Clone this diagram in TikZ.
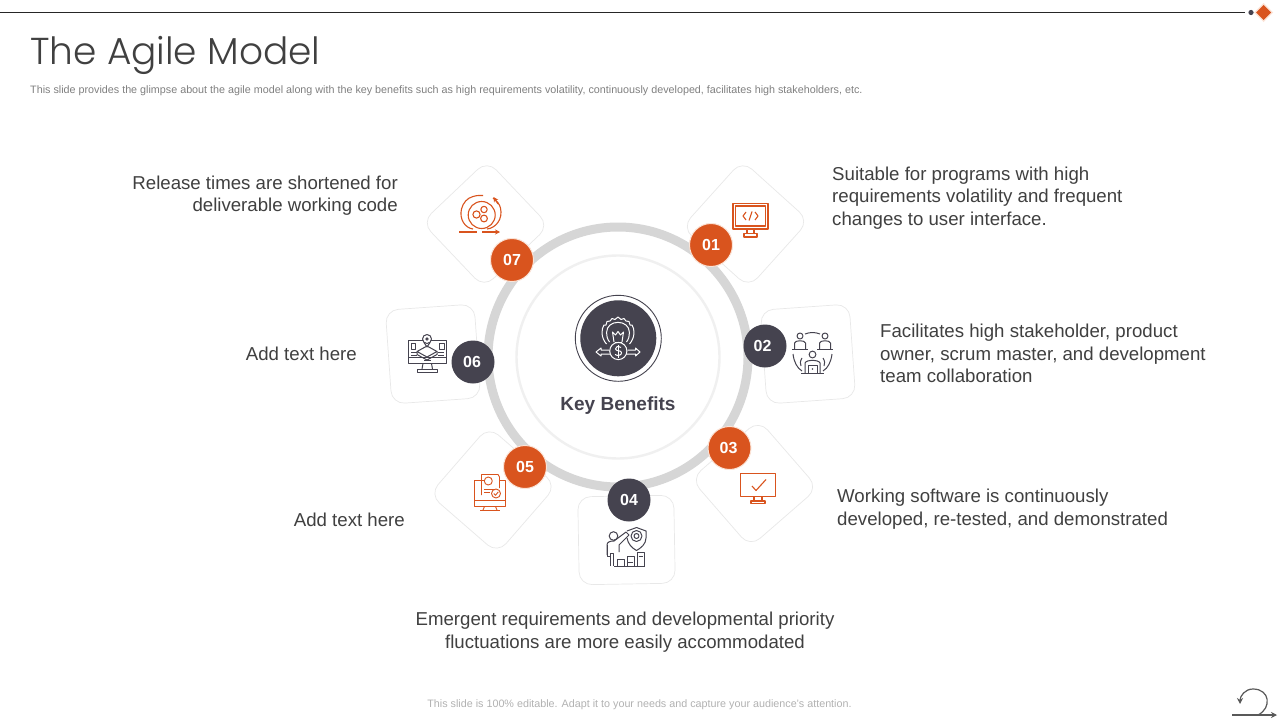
\documentclass[tikz,border=0pt]{standalone}
\usepackage{fontspec}
\setmainfont{Liberation Sans}
\newfontfamily\titlefont{Poppins Light}
\usetikzlibrary{arrows.meta}
\definecolor{brandorange}{HTML}{D9541E}
\definecolor{paleorange}{HTML}{FBE3D6}
\definecolor{slate}{HTML}{45434F}
\definecolor{bodytext}{HTML}{404040}
\tikzset{
  x=1pt,y=-1pt,
  bodylabel/.style={font=\fontsize{18.65}{22.5}\selectfont,text=bodytext,inner sep=0pt},
  cardshape/.style={draw=black!9,line width=.7pt,fill=white,rounded corners=13pt,inner sep=0pt},
  diamondcard/.style={cardshape,minimum width=90pt,minimum height=90pt},
  badgeorange/.style={circle,fill=brandorange,draw=paleorange,line width=1pt,minimum size=43pt,inner sep=0pt,text=white,font=\fontsize{16}{16}\selectfont\bfseries},
  badgeslate/.style={circle,fill=slate,minimum size=43pt,inner sep=0pt,text=white,font=\fontsize{16}{16}\selectfont\bfseries},
  iconorange/.style={draw=brandorange,line width=1.1pt,line join=round},
  iconslate/.style={draw=slate,line width=1pt,line join=round},
  iconwhite/.style={draw=white,line width=1pt,line join=round},
}
\begin{document}
\begin{tikzpicture}
\useasboundingbox (0,0) rectangle (1280,720);
\fill[white] (0,0) rectangle (1280,720);
% header
\draw[line width=.9pt,draw=black!85] (0,12.5) -- (1245,12.5);
\fill[slate] (1251,12.5) circle (2.6);
\fill[paleorange] (1263.5,3) -- (1273,12.5) -- (1263.5,22) -- (1254,12.5) -- cycle;
\fill[brandorange] (1263.5,5) -- (1271,12.5) -- (1263.5,20) -- (1256,12.5) -- cycle;
\node[anchor=west,inner sep=0pt,text=bodytext,font=\fontsize{37.5}{38}\titlefont] (title) at (30,55.5) {The Agile Model};
\node[anchor=west,inner sep=0pt,text=black!50,font=\fontsize{10.76}{12}\selectfont] (subtitle) at (30,90.5) {This slide provides the glimpse about the agile model along with the key benefits such as high requirements volatility, continuously developed, facilitates high stakeholders, etc.};
\node[inner sep=0pt,text=black!30,font=\fontsize{10.76}{12}\selectfont] (footer) at (639.5,704.5) {This slide is 100\% editable. Adapt it to your needs and capture your audience's attention.};
% return icon
\draw[draw=black!65,line width=1.2pt,-{Stealth[length=6pt,width=6pt]}] (1232,715) -- (1277,715);
\draw[draw=black!65,line width=1.2pt,-{Stealth[length=6pt,width=6pt]}] (1258,715) .. controls (1272,708) and (1270,689) .. (1253,689) .. controls (1245,689) and (1240,696) .. (1240,704);
% cards
\node[diamondcard,rotate=43.5] (card7) at (485.5,224) {};
\node[diamondcard,rotate=48] (card1) at (745.5,224) {};
\node[diamondcard,rotate=41] (card3) at (754.5,483.5) {};
\node[diamondcard,rotate=49] (card5) at (493,490) {};
\node[cardshape,minimum width=89pt,minimum height=94pt,rotate=4] (card6) at (433,354) {};
\node[cardshape,minimum width=89pt,minimum height=94pt,rotate=4] (card2) at (808,354) {};
\node[cardshape,minimum width=96pt,minimum height=88pt,rotate=1] (card4) at (626.5,540) {};
% ring
\node[circle,draw=black!16,line width=9pt,minimum size=260pt,inner sep=0pt] (ring) at (618,357) {};
\node[circle,draw=black!6,line width=2.4pt,fill=white,minimum size=203pt,inner sep=0pt] (inner) at (618,357) {};
% centre
\node[circle,draw=slate,line width=.9pt,minimum size=86pt,inner sep=0pt] (hubring) at (618.3,338.3) {};
\node[circle,fill=slate,minimum size=76pt,inner sep=0pt] (hub) at (618.3,338.3) {};
\begin{scope}[iconwhite]
  % gear outline
  \draw (606.5,344) .. controls (601,338) and (601,329) .. (604,325) -- (606,325) -- (607,321.5) -- (610,321) -- (612,318.5) -- (615,319.5) -- (618,317) -- (621,319.5) -- (624,318.5) -- (626,321) -- (629,321.5) -- (630,325) -- (632,325) .. controls (635,329) and (635,338) .. (629.5,344);
  \draw (609.5,342) .. controls (605,336) and (606,328) .. (610,325) .. controls (614,321.5) and (622,321.5) .. (626,325) .. controls (630,328) and (631,336) .. (626.5,342);
  \draw (614,342) -- (612.5,332) -- (615.5,335) -- (618,331.5) -- (620.5,335) -- (623.5,332) -- (622,342);
  \draw (618.3,351) circle (8.6);
  \draw (614.5,342.5) -- (622,342.5);
  \draw (621,347.5) .. controls (618,345.5) and (615,347) .. (615.5,349) .. controls (616,351.5) and (621,350) .. (621.5,352.5) .. controls (622,355) and (618,356.5) .. (615,354.5);
  \draw (618.3,344.5) -- (618.3,357.5);
  \draw (609,350) -- (601,350) -- (601,348) -- (596,352) -- (601,356) -- (601,354) -- (610,354);
  \draw (627.5,350) -- (635.5,350) -- (635.5,348) -- (640,352) -- (635.5,356) -- (635.5,354) -- (626.5,354);
\end{scope}
\node[inner sep=0pt,text=slate,font=\fontsize{19}{19}\selectfont\bfseries] (keyb) at (618,405.5) {Key Benefits};
% icon 07
\begin{scope}[iconorange]
  \draw (481.7,215) circle (13.5);
  \draw (484,209.5) circle (3.2);
  \draw (476.5,214.5) circle (3.6);
  \draw (484,218.5) circle (3.4);
  \draw (461.5,209) .. controls (459,219) and (465,228) .. (473,229);
  \draw (461.5,209) .. controls (463,203) and (467,198) .. (473,196.5) .. controls (477,195.3) and (480,195.3) .. (483,195.5);
  \draw (487,229) .. controls (496,228) and (503,219) .. (500.5,208) .. controls (499.5,204) and (497,201) .. (493,198);
  \draw[-{Stealth[length=5pt,width=5pt]}] (498,204) -- (493.5,197);
  \draw (459,232) -- (477,232);
  \draw[-{Stealth[length=5pt,width=5pt]}] (482,232) -- (500,232);
\end{scope}
% icon 01
\begin{scope}[iconorange]
  \draw (733,203.5) rectangle (768,229);
  \draw (735.5,206) rectangle (765.5,226);
  \draw (747,229) -- (747,233.5) (754,229) -- (754,233.5);
  \draw (744,233.5) rectangle (757,237);
  \draw (746,212) -- (743,216) -- (746,220);
  \draw (755,212) -- (758,216) -- (755,220);
  \draw (752,211.5) -- (749,220.5);
\end{scope}
% icon 02
\begin{scope}[iconslate]
  \draw (800,336) circle (3);
  \draw (825,336) circle (3);
  \draw (812.5,354.5) circle (3.4);
  \draw (792,349) -- (808,349) (817,349) -- (833,349);
  \draw (794.5,349) -- (794.5,343) .. controls (795,340) and (805,340) .. (805.5,343) -- (805.5,349);
  \draw (819.5,349) -- (819.5,343) .. controls (820,340) and (830,340) .. (830.5,343) -- (830.5,349);
  \draw (805,334) .. controls (810,332) and (815,332) .. (820,334);
  \draw (793,354) .. controls (794,362) and (797,368) .. (802,371);
  \draw (832,354) .. controls (831,362) and (828,368) .. (823,371);
  \draw (801,373) -- (824,373);
  \draw (805,373) -- (805,363) .. controls (806,359.5) and (819,359.5) .. (820,363) -- (820,373);
  \draw (808,373) rectangle (817,365);
  \draw (802,358) .. controls (800,361) and (800,364) .. (801,366);
  \draw (823,358) .. controls (825,361) and (825,364) .. (824,366);
\end{scope}
\fill[slate] (812.5,369) circle (.8);
% icon 03
\begin{scope}[iconorange]
  \draw (740.5,473.5) rectangle (775.5,496.5);
  \draw (752,486) -- (756,490.5) -- (766,479.5);
  \draw (754,496.5) -- (754,501) (762,496.5) -- (762,501);
  \draw (751,501) rectangle (765,503.5);
\end{scope}
% icon 04
\begin{scope}[iconslate]
  \draw (613.5,536) circle (4.3);
  \draw (627,531) -- (636.5,527.5) -- (646,531) -- (646,538) .. controls (646,544) and (641,548) .. (636.5,550.5) .. controls (632,548) and (628,544) .. (627,538);
  \draw (636.5,536) circle (5.5);
  \draw (636.5,536) circle (2.5);
  \draw (607,555) -- (607,545) .. controls (607,542) and (610,541) .. (614,541) -- (626,532) -- (629,535) -- (619,545) -- (619,552);
  \draw (610,566) -- (610,553) -- (613,553) -- (613,566);
  \draw (607,545) -- (607,556) -- (610,556);
  \draw (614,566) -- (645,566);
  \draw (617,566) -- (617,559) -- (624,559) -- (624,566);
  \draw (627,566) -- (627,556) -- (634,556) -- (634,566);
  \draw (637,566) -- (637,552) -- (644,552) -- (644,566);
  \draw (628,562) -- (633,562) (638.5,556) -- (642.5,556);
\end{scope}
% icon 05
\begin{scope}[iconorange,line width=.9pt]
  \draw (484,480) -- (474.5,480) -- (474.5,506.5) -- (505.5,506.5) -- (505.5,480) -- (500,480);
  \draw (474.5,500.5) -- (505.5,500.5);
  \draw (484.5,506.5) -- (483,510) (495.5,506.5) -- (497,510);
  \draw (480,510.5) -- (500,510.5);
  \draw (481.5,495) -- (481.5,474.5) -- (498,474.5) -- (499.5,477) -- (499.5,488);
  \draw (488.3,481) circle (4);
  \draw (484,489) -- (494,489) (484,492) -- (490,492);
  \fill[white] (496,493.5) circle (4.5);
  \draw (496,493.5) circle (4.5);
  \draw (493.8,493.5) -- (495.5,495.3) -- (498.3,491.8);
\end{scope}
% icon 06
\begin{scope}[iconslate]
  \draw (408.5,340) rectangle (446.5,363.5);
  \draw (408.5,357.5) -- (446.5,357.5);
  \draw (423,363.5) -- (422,369) (431.5,363.5) -- (432.5,369);
  \draw (417,369) rectangle (437.5,372);
  \draw (411,343) rectangle (415.5,349);
  \draw (439.5,343) rectangle (444,349);
  \draw (411,352) -- (417,352) (411,355) -- (417,355) (438,352) -- (444,352) (438,355) -- (444,355);
  \draw (427,346) -- (417,351.5) -- (427,357) -- (437,351.5) -- cycle;
  \draw (417,351.5) -- (417,354.5) -- (427,360) -- (437,354.5) -- (437,351.5);
  \fill[white] (427,339) circle (4.5);
  \draw (427,339) circle (4.5);
  \draw (427,339) circle (1.2);
  \draw (424,342.5) -- (427,347) -- (430,342.5);
  \draw (424,360.5) -- (431,360.5);
\end{scope}
% badges
\node[badgeorange] (b1) at (711,245) {01};
\node[badgeslate] (b2) at (765,346) {02\rule{5pt}{0pt}};
\node[badgeorange] (b3) at (729.5,448) {03\rule{2pt}{0pt}};
\node[badgeslate] (b4) at (629,500) {04};
\node[badgeorange] (b5) at (525,467) {05};
\node[badgeslate] (b6) at (473,362) {06\rule{2pt}{0pt}};
\node[badgeorange] (b7) at (512,260) {07};
% labels
\node[bodylabel,anchor=east,align=right] (t7) at (398,195.5) {Release times are shortened for\\deliverable working code};
\node[bodylabel,anchor=west,align=left] (t1) at (832,198) {Suitable for programs with high\\requirements volatility and frequent\\changes to user interface.};
\node[bodylabel,anchor=west,align=left] (t2) at (880,353.8) {Facilitates high stakeholder, product\\owner, scrum master, and development\\team collaboration};
\node[bodylabel,anchor=west,align=left] (t3) at (837,509.3) {Working software is continuously\\developed, re-tested, and demonstrated};
\node[bodylabel,align=center] (t4) at (625,632) {Emergent requirements and developmental priority\\fluctuations are more easily accommodated};
\node[bodylabel,anchor=east] (t6) at (357,354) {Add text here};
\node[bodylabel,anchor=east] (t5) at (405,520) {Add text here};
\end{tikzpicture}
\end{document}
